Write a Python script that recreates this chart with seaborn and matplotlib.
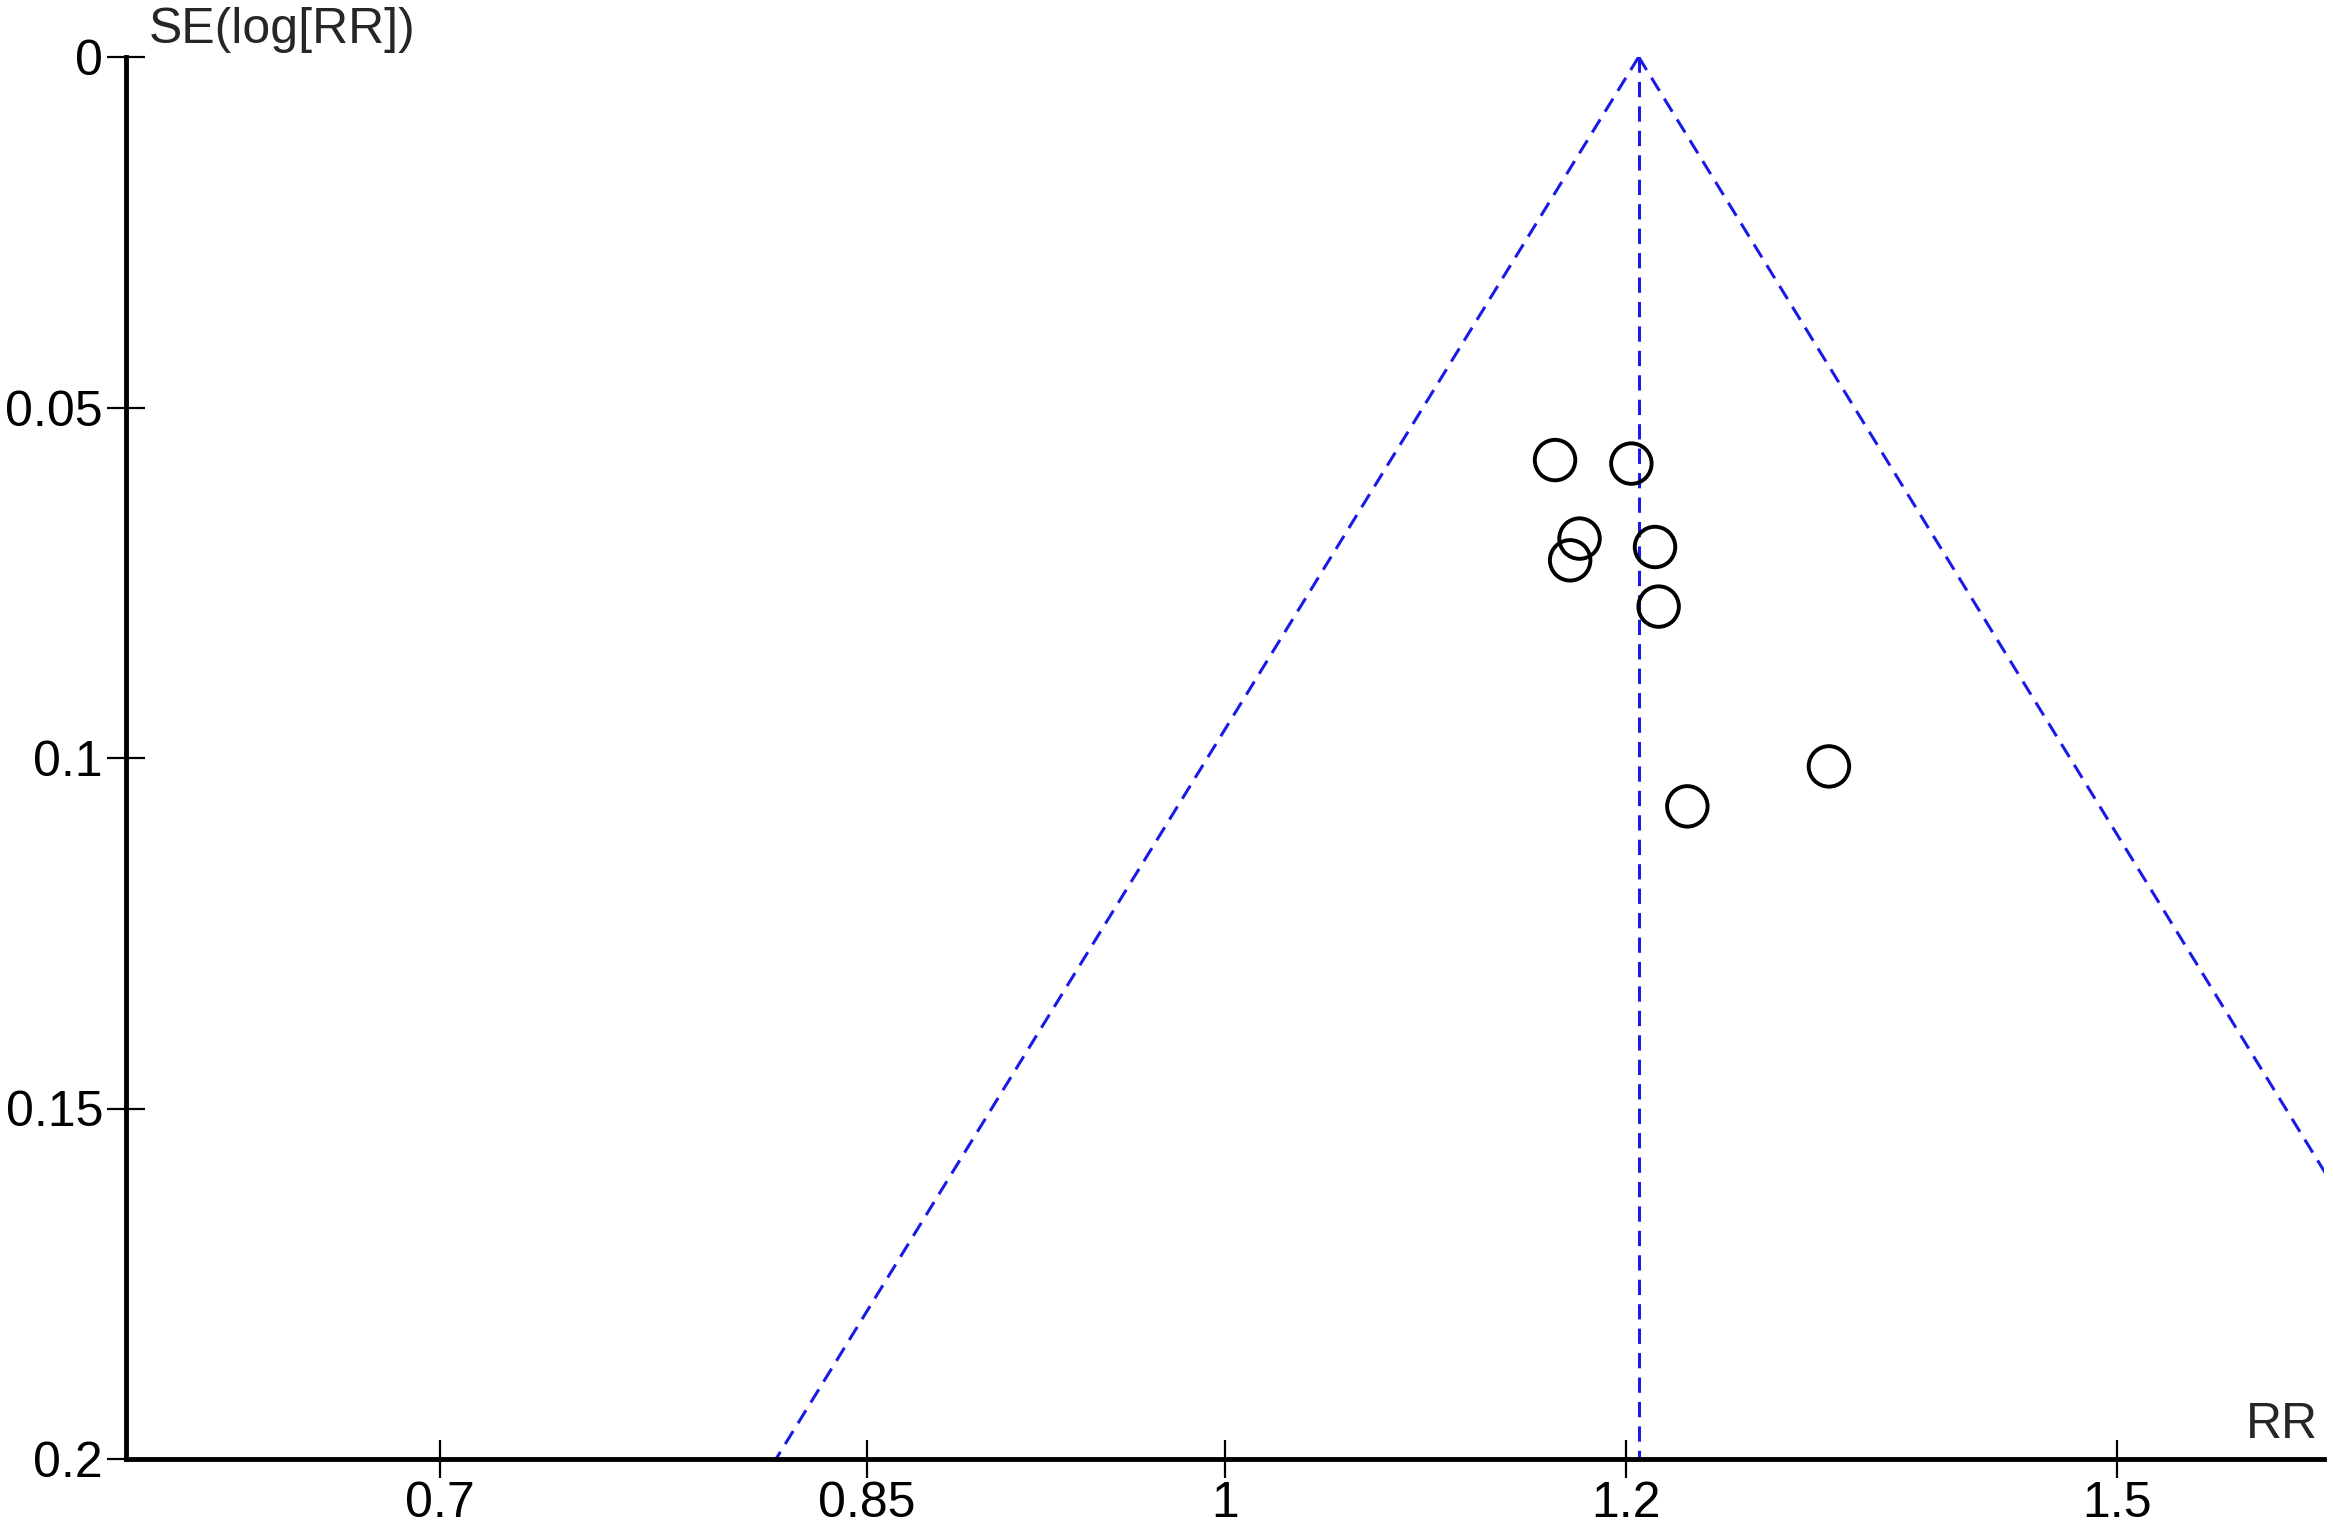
import numpy as np
import matplotlib
matplotlib.use('Agg')
import matplotlib.pyplot as plt
import seaborn as sns

# Study estimates
rr = [1.162, 1.203, 1.175, 1.170, 1.216, 1.218, 1.316, 1.234]
se = [0.0575, 0.0580, 0.0687, 0.0718, 0.0699, 0.0784, 0.1012, 0.1069]

# Pooled estimate and axis settings
pooled_rr = 1.207
se_max = 0.2
x_ticks = [0.7, 0.85, 1, 1.2, 1.5]
x_tick_labels = ['0.7', '0.85', '1', '1.2', '1.5']
y_ticks = [0, 0.05, 0.1, 0.15, 0.2]
y_tick_labels = ['0', '0.05', '0.1', '0.15', '0.2']

sns.set_style('white')
plt.rcParams['font.family'] = ['Liberation Sans', 'DejaVu Sans']

fig = plt.figure(figsize=(23.33, 15.33), dpi=100)
ax = fig.add_axes([126 / 2333, 1 - 1459 / 1533, (2324 - 126) / 2333, (1459 - 57) / 1533])

blue = '#1a1ae6'
# funnel: pseudo 95% confidence limits around pooled estimate
se_line = np.array([0, se_max])
lo = np.exp(np.log(pooled_rr) - 1.96 * se_line)
hi = np.exp(np.log(pooled_rr) + 1.96 * se_line)
ax.plot(lo, se_line, color=blue, lw=2.2, dashes=(5, 3))
ax.plot(hi, se_line, color=blue, lw=2.2, dashes=(5, 3))
ax.plot([pooled_rr, pooled_rr], se_line, color=blue, lw=2.2, dashes=(5, 3))

sns.scatterplot(x=rr, y=se, ax=ax, marker='o', s=850, facecolors='none',
                edgecolor='black', linewidth=2.8, zorder=3)

ax.set_xscale('log')
ax.set_xlim(0.607, 1.648)
ax.set_ylim(se_max, 0)
ax.set_xticks(x_ticks)
ax.set_xticklabels(x_tick_labels)
ax.minorticks_off()
ax.set_yticks(y_ticks)
ax.set_yticklabels(y_tick_labels)
ax.tick_params(bottom=True, left=True, direction='inout', length=27, width=1.6,
               labelsize=36, colors='black')
ax.tick_params(axis='x', pad=2)
ax.tick_params(axis='y', pad=3)

for side in ['top', 'right']:
    ax.spines[side].set_visible(False)
for side in ['left', 'bottom']:
    ax.spines[side].set_linewidth(3.5)
    ax.spines[side].set_color('black')

fig.text(149 / 2333, 1 - 30 / 1533, 'SE(log[RR])', ha='left', va='center', fontsize=36)
fig.text(2318 / 2333, 1 - 1425 / 1533, 'RR', ha='right', va='center', fontsize=36)

plt.savefig('out.png', dpi=100)
